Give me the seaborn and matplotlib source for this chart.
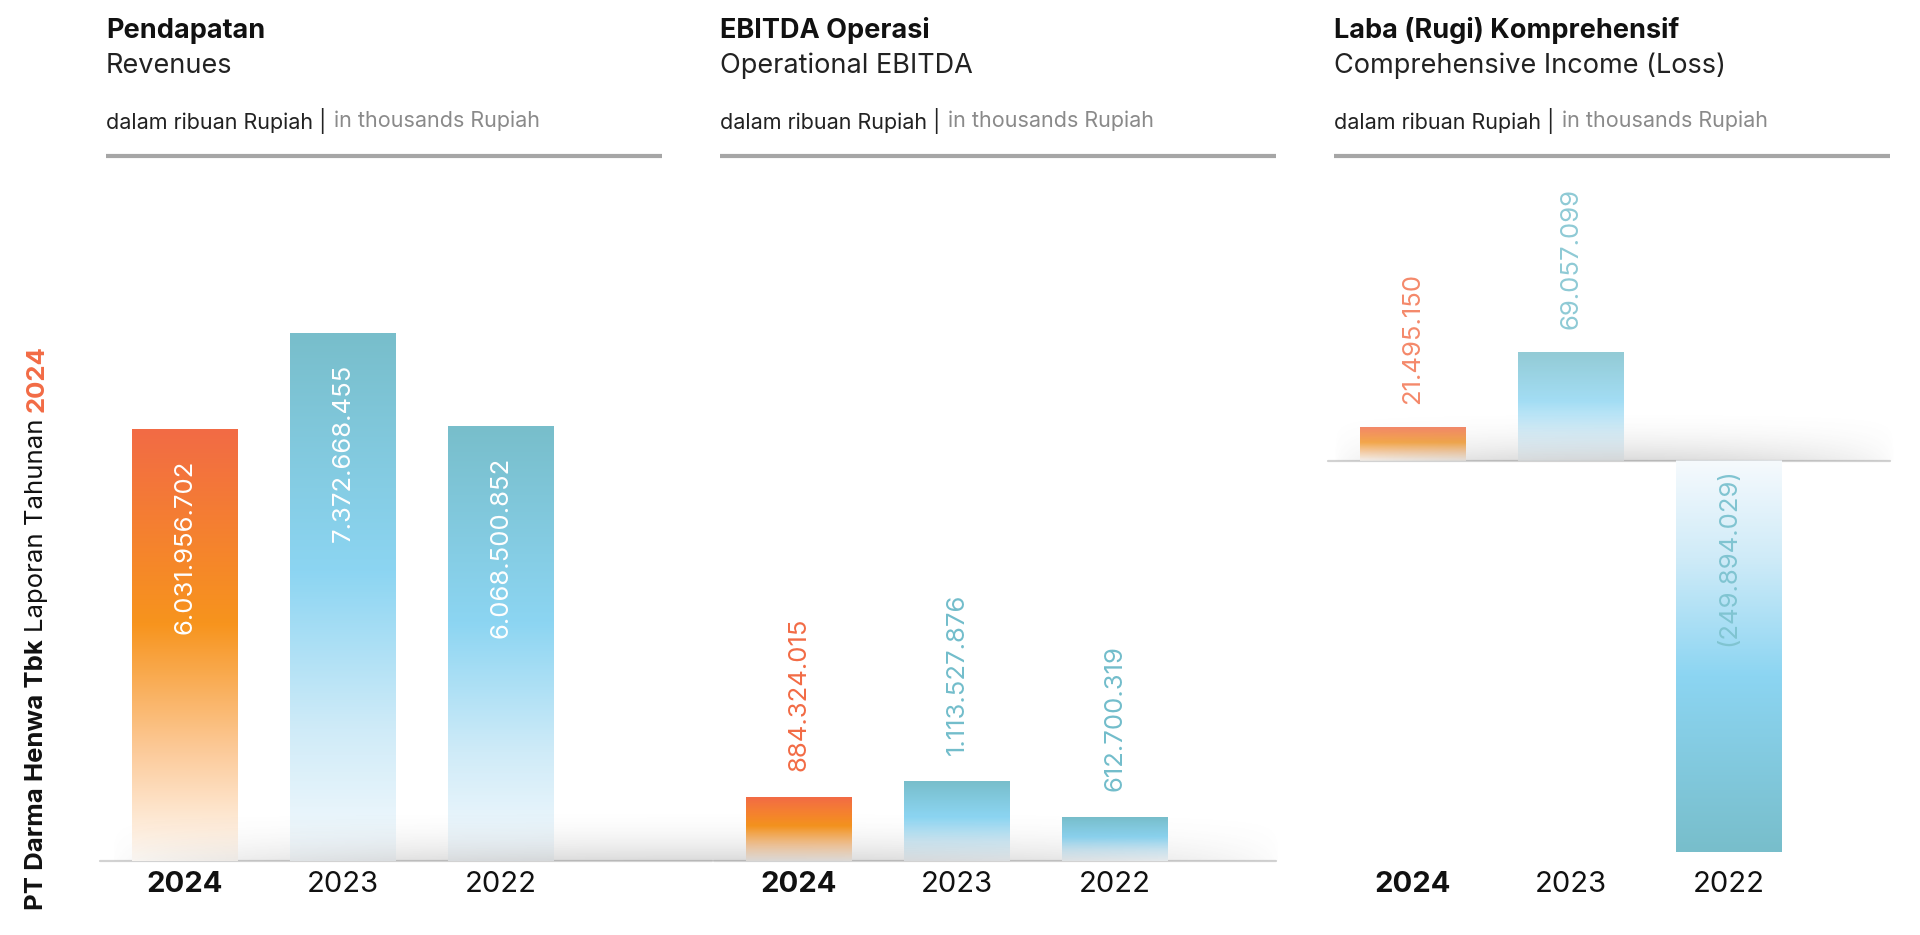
import numpy as np
import pandas as pd
import matplotlib
matplotlib.use("Agg")
import matplotlib.pyplot as plt
import seaborn as sns
from matplotlib.colors import LinearSegmentedColormap

# ---------------- data ----------------
years = ["2024", "2023", "2022"]
revenues = [6031956702, 7372668455, 6068500852]
ebitda = [884324015, 1113527876, 612700319]
comprehensive = [21495150, 69057099, -249894029]

titles_id = ["Pendapatan", "EBITDA Operasi", "Laba (Rugi) Komprehensif"]
titles_en = ["Revenues", "Operational EBITDA", "Comprehensive Income (Loss)"]
note_id = "dalam ribuan Rupiah |"
note_en = "in thousands Rupiah"
side_text = ["PT Darma Henwa Tbk", "Laporan Tahunan", "2024"]

# ---------------- style ----------------
sns.set_theme(style="white")
plt.rcParams["font.family"] = ["Inter", "DejaVu Sans"]

ORANGE = "#F26B45"
TEAL = "#72BDCB"
orange_cmap = LinearSegmentedColormap.from_list(
    "og", [(0.0, "#F26B45"), (0.45, "#F7941D"), (0.75, "#FCCB9B"), (1.0, "#FFFBF7")])
blue_cmap = LinearSegmentedColormap.from_list(
    "bl", [(0.0, "#78BECB"), (0.45, "#8CD5F2"), (0.75, "#CFEBF8"), (1.0, "#F6FAFD")])

W, H = 1920, 935
fig = plt.figure(figsize=(19.2, 9.35), dpi=100)
fig.patch.set_facecolor("white")


def fx(px):
    return px / W


def fy(py):
    return 1 - py / H


def fmt(v):
    s = f"{abs(v):,}".replace(",", ".")
    return f"({s})" if v < 0 else s


panel_left = [106, 720, 1334]
panel_w = 556
ax_top, ax_bot = 200, 861
panel_vals = [revenues, ebitda, comprehensive]
panel_ylim = [(0, 9.23e9), (0, 9.23e9), (-255.6e6, 166.8e6)]
label_mode = ["inside", "above", "above"]
bar_alpha = [1.0, 1.0, 0.8]

renderer = fig.canvas.get_renderer()


def seq_text(x, y, parts, **kw):
    """Place text parts one after another horizontally (figure coords)."""
    for txt, style in parts:
        t = fig.text(x, y, txt, **kw, **style)
        bb = t.get_window_extent(renderer)
        x = (bb.x1 + 8) / W


VAL_FS = 18.5
for i in range(3):
    left = panel_left[i]
    ax = fig.add_axes([fx(left), fy(ax_bot), fx(panel_w), (ax_bot - ax_top) / H])
    ax.set_facecolor("none")
    df = pd.DataFrame({"year": years, "value": panel_vals[i]})
    sns.barplot(data=df, x="year", y="value", order=years, ax=ax,
                width=0.67, color=TEAL, saturation=1, errorbar=None)
    cmaps = [orange_cmap, blue_cmap, blue_cmap]
    for patch, cmap, v in zip(ax.patches, cmaps, panel_vals[i]):
        x0, w = patch.get_x(), patch.get_width()
        y0, h = patch.get_y(), patch.get_height()
        lo, hi = min(y0, y0 + h), max(y0, y0 + h)
        g = np.linspace(0, 1, 256).reshape(-1, 1)
        a = bar_alpha[i]
        if v < 0:
            g = 1 - g
            a = 1.0
        ax.imshow(cmap(g), extent=[x0, x0 + w, lo, hi], origin="upper",
                  aspect="auto", zorder=2, interpolation="bilinear", alpha=a)
        patch.set_visible(False)
        cx = x0 + w / 2
        col = ORANGE if cmap is orange_cmap else TEAL
        if label_mode[i] == "inside":
            ax.annotate(fmt(v), (cx, hi), xytext=(0, -22), textcoords="offset points",
                        rotation=90, ha="center", va="top", color="white",
                        fontsize=VAL_FS, zorder=6)
        elif v >= 0:
            ax.annotate(fmt(v), (cx, hi), xytext=(0, 17 if i == 2 else 19),
                        textcoords="offset points", rotation=90, ha="center",
                        va="bottom", color=col, fontsize=VAL_FS, zorder=6,
                        alpha=bar_alpha[i] if i == 2 else 1.0)
        else:
            ax.annotate(fmt(v), (cx, 0), xytext=(0, -5), textcoords="offset points",
                        rotation=90, ha="center", va="top", color="#80C4D1",
                        fontsize=VAL_FS, zorder=6)
    ax.set_xlim(-0.5, 3.02)
    ax.set_ylim(*panel_ylim[i])
    ax.set_xlabel("")
    ax.set_ylabel("")
    ax.set_yticks([])
    for s in ax.spines.values():
        s.set_visible(False)
    ax.tick_params(axis="x", length=0, pad=7, labelsize=21, colors="#111111")
    for lab in ax.get_xticklabels():
        if lab.get_text() == "2024":
            lab.set_fontweight("bold")
    ext = 1.09 if i == 0 else 1.0
    ax.axhline(0, xmin=-0.01, xmax=ext, color="#D2D2D2", lw=1.6, zorder=1, clip_on=False)

    # header
    fig.text(fx(left), fy(31), titles_id[i], fontsize=19.5, fontweight="bold",
             color="#111111", va="center", ha="left")
    fig.text(fx(left), fy(66), titles_en[i], fontsize=19.5, color="#222222",
             va="center", ha="left")
    seq_text(fx(left), fy(121),
             [(note_id, dict(color="#222222")), (note_en, dict(color="#8A8A8A"))],
             fontsize=15.5, va="center", ha="left")
    fig.add_artist(plt.Line2D([fx(left), fx(left + panel_w)], [fy(156), fy(156)],
                              color="#A6A6A6", lw=3.0, solid_capstyle="butt"))


# soft shadows along the baselines
def shadow(x0, x1, ybase, height, amax):
    sax = fig.add_axes([fx(x0), fy(ybase), fx(x1 - x0), height / H], zorder=5)
    sax.set_axis_off()
    nx, ny = 400, 80
    t = np.linspace(0, 1, nx)
    f = np.sin(np.pi * t) ** 0.6
    yy = np.linspace(0, 1, ny).reshape(-1, 1)
    alpha = amax * f[None, :] * (1 - yy) ** 2.2
    img = np.zeros((ny, nx, 4))
    img[..., :3] = 0.35
    img[..., 3] = alpha
    sax.imshow(img, origin="lower", aspect="auto", extent=[0, 1, 0, 1])
    sax.set_xlim(0, 1)
    sax.set_ylim(0, 1)


shadow(111, 1280, 861, 55, 0.22)
shadow(1334, 1894, 461, 55, 0.22)

# vertical side text
x_side = fx(37)
y = 910
styles = [dict(fontweight="bold", color="#111111"),
          dict(color="#111111"),
          dict(fontweight="bold", color=ORANGE)]
for txt, st in zip(side_text, styles):
    t = fig.text(x_side, fy(y), txt, rotation=90, fontsize=18.5, ha="center",
                 va="bottom", **st)
    bb = t.get_window_extent(renderer)
    y = H - bb.y1 - 7

fig.savefig("out.png", dpi=100, facecolor="white")
